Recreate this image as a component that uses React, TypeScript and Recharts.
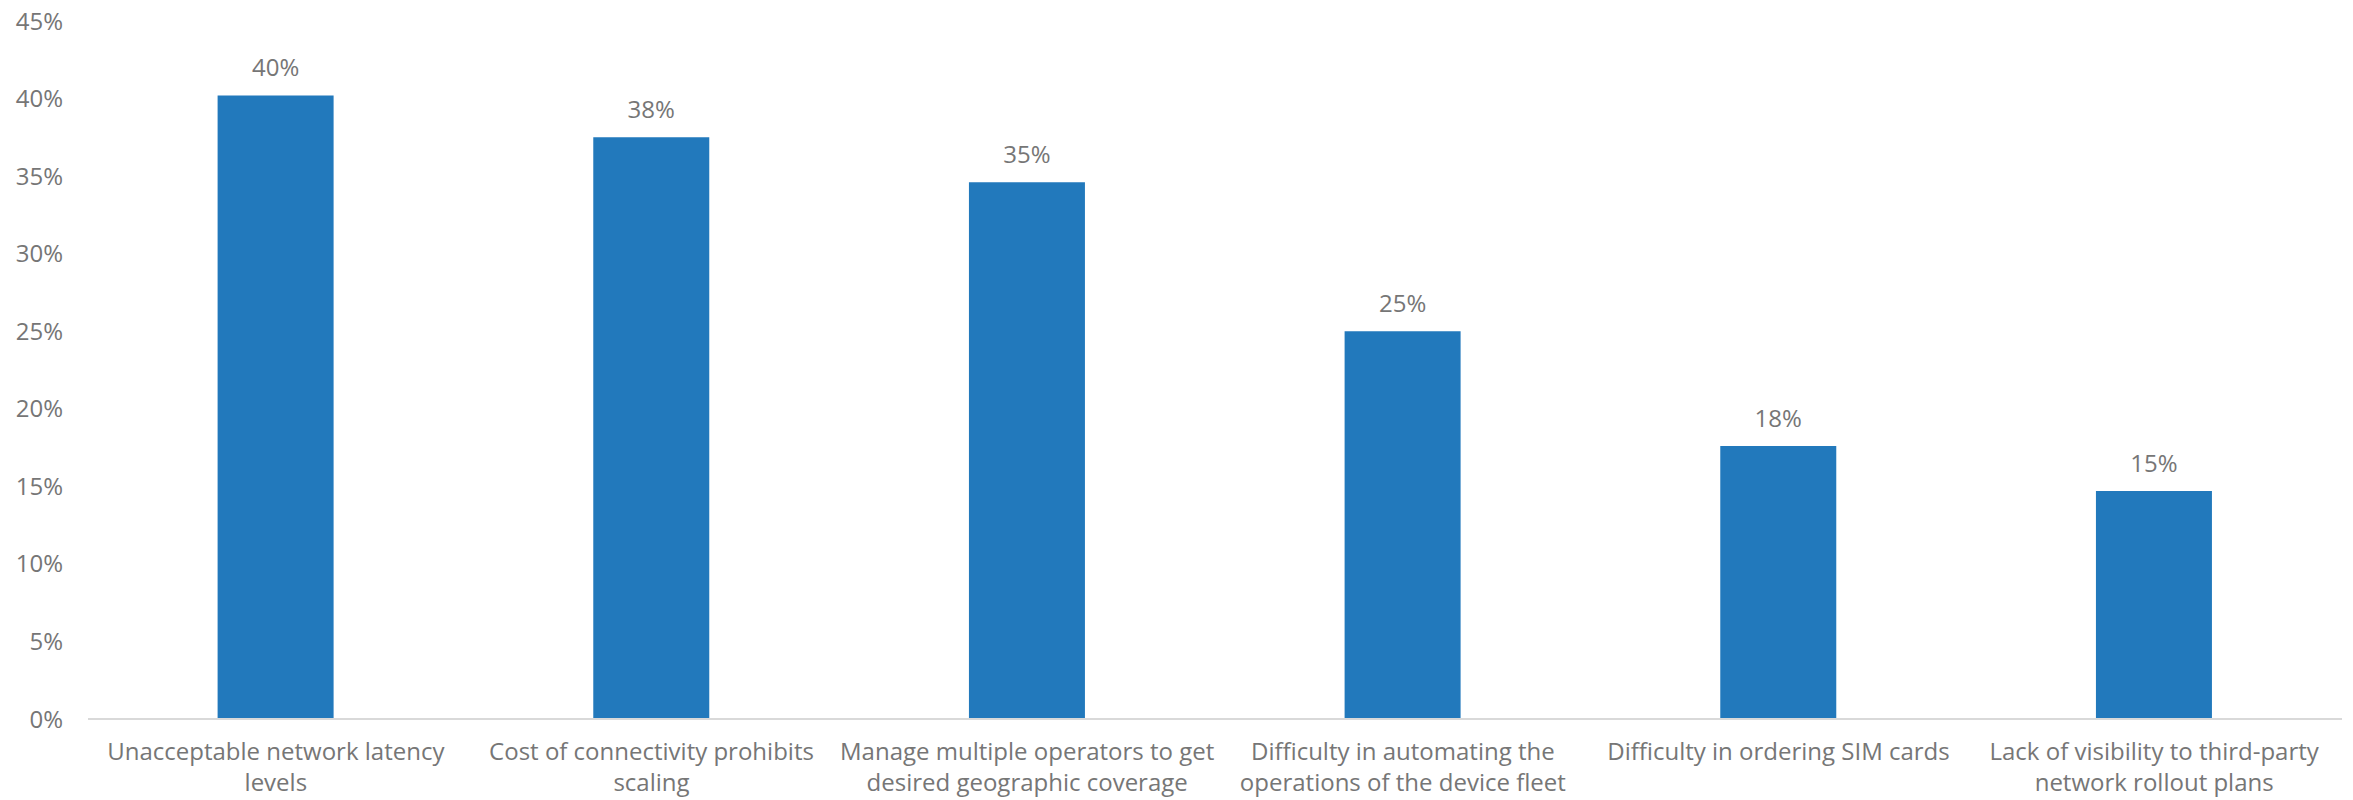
import { BarChart, Bar, XAxis, YAxis, LabelList } from "recharts";

// survey: main connectivity challenges (share of respondents)
const categories = [
  "Unacceptable network latency\nlevels",
  "Cost of connectivity prohibits\nscaling",
  "Manage multiple operators to get\ndesired geographic coverage",
  "Difficulty in automating the\noperations of the device fleet",
  "Difficulty in ordering SIM cards",
  "Lack of visibility to third-party\nnetwork rollout plans",
];
const shares = [40.2, 37.5, 34.6, 25.0, 17.6, 14.7];
const yTicks = [0, 5, 10, 15, 20, 25, 30, 35, 40, 45];

const data = categories.map((name, i) => ({ name, value: shares[i] }));

const FONT = "'Open Sans', sans-serif";
const GREY = "#767676";

function CategoryTick(props: any) {
  const { x, y, payload } = props;
  const lines = String(payload.value).split("\n");
  return (
    <text x={x} y={y} textAnchor="middle" fill={GREY} fontSize={24} fontFamily={FONT}>
      {lines.map((l, i) => (
        <tspan key={i} x={x} dy={i === 0 ? 33 : 31}>
          {l}
        </tspan>
      ))}
    </text>
  );
}

export default function App() {
  return (
    <div style={{ position: "absolute", left: 0, top: 0, background: "#fff" }}>
      <BarChart
        width={2353}
        height={800}
        data={data}
        margin={{ top: 21, right: 11, bottom: 0, left: 0 }}
        barCategoryGap="34.5%"
      >
        <XAxis
          dataKey="name"
          interval={0}
          height={81}
          tickLine={false}
          axisLine={{ stroke: "#d9d9d9", strokeWidth: 2 }}
          tick={<CategoryTick />}
        />
        <YAxis
          width={88}
          domain={[0, 45]}
          ticks={yTicks}
          interval={0}
          axisLine={false}
          tickLine={false}
          tickSize={0}
          tickMargin={25}
          tickFormatter={(v: number) => `${v}%`}
          tick={{ fill: GREY, fontSize: 24, fontFamily: FONT }}
        />
        <Bar dataKey="value" fill="#2279bc" isAnimationActive={false}>
          <LabelList
            dataKey="value"
            position="top"
            offset={19}
            formatter={(v: any) => `${Math.round(Number(v))}%`}
            fill={GREY}
            fontSize={24}
            fontFamily={FONT}
          />
        </Bar>
      </BarChart>
    </div>
  );
}
